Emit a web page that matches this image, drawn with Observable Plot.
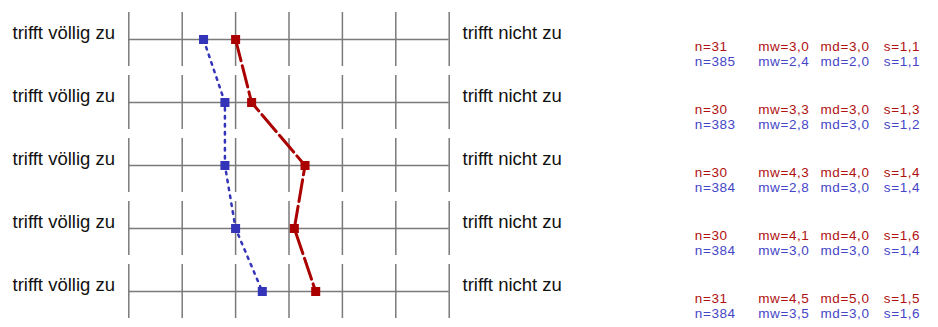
<!DOCTYPE html>
<html>
<head>
<meta charset="utf-8">
<script src="https://cdn.jsdelivr.net/npm/d3@7"></script>
<script src="https://cdn.jsdelivr.net/npm/@observablehq/plot@0.6"></script>
<style>
  html, body { margin: 0; padding: 0; background: #fff; }
</style>
</head>
<body>
<div id="chart"></div>
<script>
// ---- data ----
const rows = [1, 2, 3, 4, 5];
const scalePoints = [1, 2, 3, 4, 5, 6, 7];
const leftLabel = "trifft völlig zu";
const rightLabel = "trifft nicht zu";

const redN  = [31, 30, 30, 30, 31];
const redMw = [3.0, 3.3, 4.3, 4.1, 4.5];
const redMd = [3.0, 3.0, 4.0, 4.0, 5.0];
const redS  = [1.1, 1.3, 1.4, 1.6, 1.5];

const blueN  = [385, 383, 384, 384, 384];
const blueMw = [2.4, 2.8, 2.8, 3.0, 3.5];
const blueMd = [2.0, 3.0, 3.0, 3.0, 3.0];
const blueS  = [1.1, 1.2, 1.4, 1.4, 1.6];

const RED = "#aa0000";
const BLUE = "#3434b8";
const RED_TXT = "#b01010";
const BLUE_TXT = "#4545c8";
const GRID = "#7a7a7a";

// ---- derived tables ----
const fmt = v => d3.format(".1f")(v).replace(".", ",");
const red = rows.map((r, i) => ({row: r, mw: redMw[i], n: redN[i], md: redMd[i], s: redS[i]}));
const blue = rows.map((r, i) => ({row: r, mw: blueMw[i], n: blueN[i], md: blueMd[i], s: blueS[i]}));
const grid = rows.flatMap(r => scalePoints.map(p => ({row: r, p})));

const statFont = {fontFamily: "Liberation Sans, Arial, sans-serif", fontSize: 13.5, textAnchor: "start", lineAnchor: "middle", frameAnchor: "right"};
const statCols = [
  {key: d => "n=" + d.n, dx: 245.6},
  {key: d => "mw=" + fmt(d.mw), dx: 309},
  {key: d => "md=" + fmt(d.md), dx: 371.3},
  {key: d => "s=" + fmt(d.s), dx: 434.6}
];
const statMarks = [];
for (const c of statCols) {
  statMarks.push(Plot.text(red, {y: "row", text: c.key, fill: RED_TXT, dx: c.dx, dy: 7, ...statFont}));
  statMarks.push(Plot.text(blue, {y: "row", text: c.key, fill: BLUE_TXT, dx: c.dx, dy: 22.5, ...statFont}));
}

const chart = Plot.plot({
  width: 938,
  height: 327,
  marginLeft: 128.3,
  marginRight: 489.3,
  marginTop: 9.5,
  marginBottom: 6.5,
  style: {background: "#fff", fontFamily: "Liberation Sans, Arial, sans-serif"},
  x: {domain: [1, 7], axis: null},
  y: {type: "band", domain: rows, paddingInner: 0.1406, paddingOuter: 0, axis: null},
  marks: [
    Plot.tickX(grid, {x: "p", y: "row", stroke: GRID, strokeWidth: 1.5}),
    Plot.ruleY(rows, {y: d => d, x1: 1, x2: 7, stroke: GRID, strokeWidth: 1.5}),
    Plot.text(rows, {y: d => d, text: () => leftLabel, frameAnchor: "left", textAnchor: "start", lineAnchor: "bottom", dx: -116.3, dy: -1, fontSize: 18.5, fill: "#111"}),
    Plot.text(rows, {y: d => d, text: () => rightLabel, frameAnchor: "right", textAnchor: "start", lineAnchor: "bottom", dx: 13.3, dy: -1, fontSize: 18.5, fill: "#111"}),
    Plot.line(blue, {x: "mw", y: "row", stroke: BLUE, strokeWidth: 2.5, strokeDasharray: "2.5,5.5"}),
    Plot.line(red, {x: "mw", y: "row", stroke: RED, strokeWidth: 3, strokeDasharray: "22,5"}),
    Plot.dot(blue, {x: "mw", y: "row", symbol: "square", r: 5.1, fill: BLUE, stroke: "none"}),
    Plot.dot(red, {x: "mw", y: "row", symbol: "square", r: 5.1, fill: RED, stroke: "none"}),
    ...statMarks
  ]
});
// slight horizontal widening of the statistics text, as in the reference
chart.querySelectorAll("text").forEach(t => {
  if (t.textContent.includes("=")) t.style.letterSpacing = "0.6px";
});
document.getElementById("chart").appendChild(chart);
</script>
</body>
</html>
